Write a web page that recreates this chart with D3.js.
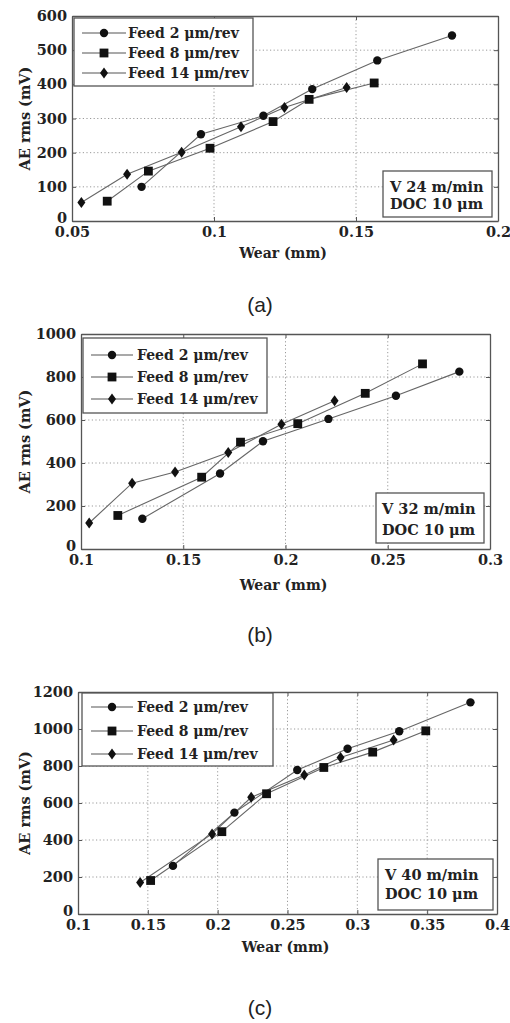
<!DOCTYPE html>
<html>
<head>
<meta charset="utf-8">
<script src="https://cdn.jsdelivr.net/npm/d3@7"></script>
<style>
  body { margin: 0; background: #fff; }
  svg { display: block; }
</style>
</head>
<body>
<div id="chart"></div>
<script>
// series names (same in all three panels)
var seriesNames = ["Feed 2 \u03bcm/rev", "Feed 8 \u03bcm/rev", "Feed 14 \u03bcm/rev"];

// panel (a) : V 24 m/min
var a_feed2 = [[0.0745, 100], [0.0954, 254], [0.1174, 308], [0.1346, 386], [0.1575, 470], [0.1838, 543]];
var a_feed8 = [[0.0624, 58], [0.0769, 146], [0.0986, 213], [0.1208, 291], [0.1335, 356], [0.1564, 404]];
var a_feed14 = [[0.0533, 54], [0.0694, 137], [0.0886, 201], [0.1095, 276], [0.1248, 332], [0.1467, 391]];
var a_xTicks = [0.05, 0.1, 0.15, 0.2];
var a_yTicks = [0, 100, 200, 300, 400, 500, 600];
var a_note = ["V 24 m/min", "DOC 10 \u03bcm"];

// panel (b) : V 32 m/min
var b_feed2 = [[0.130, 141], [0.168, 351], [0.189, 501], [0.221, 605], [0.254, 713], [0.285, 825]];
var b_feed8 = [[0.118, 156], [0.159, 334], [0.178, 497], [0.206, 583], [0.239, 724], [0.267, 861]];
var b_feed14 = [[0.104, 121], [0.125, 306], [0.146, 358], [0.172, 449], [0.198, 580], [0.224, 690]];
var b_xTicks = [0.1, 0.15, 0.2, 0.25, 0.3];
var b_yTicks = [0, 200, 400, 600, 800, 1000];
var b_note = ["V 32 m/min", "DOC 10 \u03bcm"];

// panel (c) : V 40 m/min
var c_feed2 = [[0.168, 260], [0.212, 548], [0.257, 778], [0.293, 893], [0.330, 988], [0.381, 1144]];
var c_feed8 = [[0.152, 181], [0.203, 445], [0.235, 650], [0.276, 792], [0.311, 875], [0.349, 990]];
var c_feed14 = [[0.1445, 170], [0.196, 433], [0.224, 631], [0.262, 751], [0.288, 846], [0.326, 940]];
var c_xTicks = [0.1, 0.15, 0.2, 0.25, 0.3, 0.35, 0.4];
var c_yTicks = [0, 200, 400, 600, 800, 1000, 1200];
var c_note = ["V 40 m/min", "DOC 10 \u03bcm"];

var W = 510, H = 1023;
var serif = "'DejaVu Serif', 'Liberation Serif', serif";

var svg = d3.select("#chart").append("svg")
  .attr("width", W)
  .attr("height", H);

// layout of each panel (pixels)
var panels = [
  { series: [a_feed2, a_feed8, a_feed14], xTicks: a_xTicks, yTicks: a_yTicks, note: a_note, caption: "(a)",
    left: 72, right: 498, top: 16, bottom: 221,
    legend: { x0: 74, x1: 253, y0: 18, y1: 86, rows: [33, 53, 73], lx0: 82, lx1: 126, tx: 128 },
    box: { x0: 383, x1: 492, y0: 171, y1: 217, tx: 390, rows: [192, 209] },
    xLabelY: 258, capY: 312 },
  { series: [b_feed2, b_feed8, b_feed14], xTicks: b_xTicks, yTicks: b_yTicks, note: b_note, caption: "(b)",
    left: 81, right: 490, top: 334, bottom: 549,
    legend: { x0: 83, x1: 267, y0: 338, y1: 413, rows: [355, 377, 399], lx0: 91, lx1: 133, tx: 137 },
    box: { x0: 376, x1: 484, y0: 493, y1: 543, tx: 382, rows: [514, 535] },
    xLabelY: 590, capY: 642 },
  { series: [c_feed2, c_feed8, c_feed14], xTicks: c_xTicks, yTicks: c_yTicks, note: c_note, caption: "(c)",
    left: 78, right: 497, top: 692, bottom: 914,
    legend: { x0: 82, x1: 273, y0: 693, y1: 766, rows: [707, 731, 754], lx0: 91, lx1: 133, tx: 137 },
    box: { x0: 378, x1: 493, y0: 859, y1: 910, tx: 385, rows: [880, 899] },
    xLabelY: 952, capY: 1015 }
];

// draw one marker of a given series index
function marker(g, i, cx, cy) {
  if (i === 0) {
    g.append("circle").attr("cx", cx).attr("cy", cy).attr("r", 4.2).attr("fill", "#111");
  } else if (i === 1) {
    g.append("rect").attr("x", cx - 4.4).attr("y", cy - 4.4)
      .attr("width", 8.8).attr("height", 8.8).attr("fill", "#111");
  } else {
    g.append("path")
      .attr("d", "M" + cx + "," + (cy - 5.5) + "L" + (cx + 4) + "," + cy + "L" + cx + "," + (cy + 5.5) + "L" + (cx - 4) + "," + cy + "Z")
      .attr("fill", "#111");
  }
}

panels.forEach(function (p) {
  var g = svg.append("g");
  var x = d3.scaleLinear().domain(d3.extent(p.xTicks)).range([p.left, p.right]);
  var y = d3.scaleLinear().domain(d3.extent(p.yTicks)).range([p.bottom, p.top]);

  // dotted grid
  g.append("g").selectAll("line.vx")
    .data(p.xTicks.slice(1, -1)).enter().append("line")
    .attr("x1", function (d) { return x(d); }).attr("x2", function (d) { return x(d); })
    .attr("y1", p.top).attr("y2", p.bottom)
    .attr("stroke", "#9a9a9a").attr("stroke-width", 1).attr("stroke-dasharray", "1.2,2.4");
  g.append("g").selectAll("line.hy")
    .data(p.yTicks.slice(1, -1)).enter().append("line")
    .attr("y1", function (d) { return y(d); }).attr("y2", function (d) { return y(d); })
    .attr("x1", p.left).attr("x2", p.right)
    .attr("stroke", "#9a9a9a").attr("stroke-width", 1).attr("stroke-dasharray", "1.2,2.4");

  // axes (ticks inside, matlab style)
  var xAxis = g.append("g")
    .attr("transform", "translate(0," + p.bottom + ")")
    .call(d3.axisBottom(x).tickValues(p.xTicks).tickSizeInner(-4).tickSizeOuter(0).tickPadding(4)
      .tickFormat(function (d) { return String(d); }));
  var yAxis = g.append("g")
    .attr("transform", "translate(" + p.left + ",0)")
    .call(d3.axisLeft(y).tickValues(p.yTicks).tickSizeInner(-4).tickSizeOuter(0).tickPadding(5)
      .tickFormat(function (d) { return String(d); }));
  var xTop = g.append("g")
    .attr("transform", "translate(0," + p.top + ")")
    .call(d3.axisTop(x).tickValues(p.xTicks).tickSizeInner(-4).tickSizeOuter(0).tickFormat(""));
  var yRight = g.append("g")
    .attr("transform", "translate(" + p.right + ",0)")
    .call(d3.axisRight(y).tickValues(p.yTicks).tickSizeInner(-4).tickSizeOuter(0).tickFormat(""));

  [xAxis, yAxis, xTop, yRight].forEach(function (ax) {
    ax.select(".domain").attr("stroke", "#555").attr("stroke-width", 1.3);
    ax.selectAll(".tick line").attr("stroke", "#555");
    ax.selectAll(".tick text")
      .attr("fill", "#222")
      .style("font-family", serif)
      .style("font-weight", "bold")
      .style("font-size", "14.5px");
  });
  xAxis.selectAll(".tick text").attr("dy", "0.85em");
  // the bottom "0" sits a bit higher so it does not run into the x labels
  yAxis.selectAll(".tick text").filter(function (d) { return d === 0; }).attr("dy", "0.1em");

  // series lines and markers
  var line = d3.line().x(function (d) { return x(d[0]); }).y(function (d) { return y(d[1]); });
  p.series.forEach(function (s, i) {
    g.append("path")
      .attr("d", line(s))
      .attr("fill", "none")
      .attr("stroke", "#666")
      .attr("stroke-width", 1.1);
  });
  p.series.forEach(function (s, i) {
    var mg = g.append("g");
    s.forEach(function (d) { marker(mg, i, x(d[0]), y(d[1])); });
  });

  // legend
  var L = p.legend;
  g.append("rect")
    .attr("x", L.x0).attr("y", L.y0)
    .attr("width", L.x1 - L.x0).attr("height", L.y1 - L.y0)
    .attr("fill", "#fff").attr("stroke", "#555").attr("stroke-width", 1.3);
  seriesNames.forEach(function (name, i) {
    var ry = L.rows[i];
    g.append("line")
      .attr("x1", L.lx0).attr("x2", L.lx1).attr("y1", ry).attr("y2", ry)
      .attr("stroke", "#555").attr("stroke-width", 1.1);
    marker(g, i, (L.lx0 + L.lx1) / 2, ry);
    g.append("text")
      .attr("x", L.tx).attr("y", ry)
      .attr("dy", "0.35em")
      .style("font-family", serif)
      .style("font-weight", "bold")
      .style("font-size", "14px")
      .attr("fill", "#222")
      .text(name);
  });

  // condition box
  var B = p.box;
  g.append("rect")
    .attr("x", B.x0).attr("y", B.y0)
    .attr("width", B.x1 - B.x0).attr("height", B.y1 - B.y0)
    .attr("fill", "#fff").attr("stroke", "#555").attr("stroke-width", 1.3);
  p.note.forEach(function (t, i) {
    g.append("text")
      .attr("x", B.tx).attr("y", B.rows[i])
      .style("font-family", serif)
      .style("font-weight", "bold")
      .style("font-size", "14.5px")
      .attr("fill", "#222")
      .text(t);
  });

  // axis labels
  g.append("text")
    .attr("x", (p.left + p.right) / 2 - 2)
    .attr("y", p.xLabelY)
    .attr("text-anchor", "middle")
    .style("font-family", serif)
    .style("font-weight", "bold")
    .style("font-size", "14px")
    .attr("fill", "#222")
    .text("Wear (mm)");
  g.append("text")
    .attr("transform", "rotate(-90)")
    .attr("x", -(p.top + p.bottom) / 2)
    .attr("y", 25)
    .attr("dy", "0.35em")
    .attr("text-anchor", "middle")
    .style("font-family", serif)
    .style("font-weight", "bold")
    .style("font-size", "14.5px")
    .attr("fill", "#222")
    .text("AE rms (mV)");

  // caption
  svg.append("text")
    .attr("x", 260)
    .attr("y", p.capY)
    .attr("text-anchor", "middle")
    .style("font-family", "'Liberation Sans', Arial, sans-serif")
    .style("font-size", "21px")
    .attr("fill", "#222")
    .text(p.caption);
});
</script>
</body>
</html>
